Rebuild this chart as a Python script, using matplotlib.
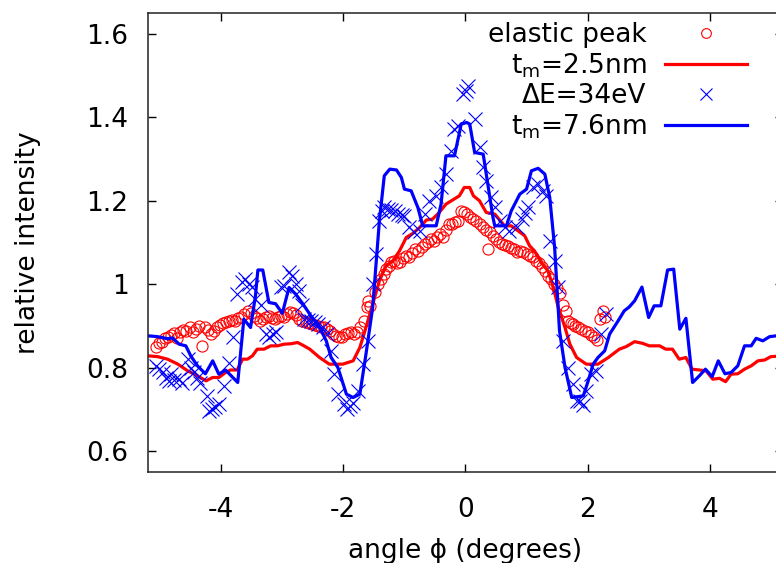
import matplotlib
matplotlib.use('Agg')
import matplotlib.pyplot as plt

plt.rcParams['font.family'] = ['DejaVu Sans']
plt.rcParams['mathtext.fontset'] = 'dejavusans'
plt.rcParams['axes.unicode_minus'] = False

# elastic peak (red circles)
elastic_x = [-5.07, -5.02, -4.97, -4.92, -4.87, -4.82, -4.77, -4.72, -4.67, -4.62,
             -4.57, -4.52, -4.47, -4.42, -4.37, -4.32, -4.27, -4.22, -4.17, -4.12,
             -4.07, -4.02, -3.97, -3.92, -3.87, -3.82, -3.77, -3.72, -3.67, -3.62,
             -3.57, -3.52, -3.47, -3.42, -3.37, -3.32, -3.27, -3.22, -3.17, -3.12,
             -3.07, -3.02, -2.97, -2.92, -2.87, -2.82, -2.77, -2.72, -2.67, -2.62,
             -2.57, -2.52, -2.47, -2.42, -2.37, -2.32, -2.27, -2.22, -2.17, -2.12,
             -2.07, -2.02, -1.97, -1.92, -1.87, -1.82, -1.77, -1.72, -1.67, -1.62,
             -1.60, -1.56, -1.48, -1.43, -1.38, -1.34, -1.30, -1.26, -1.22, -1.17,
             -1.12, -1.07, -1.02, -0.97, -0.92, -0.87, -0.82, -0.77, -0.72, -0.67,
             -0.62, -0.57, -0.52, -0.47, -0.42, -0.37, -0.32, -0.27, -0.22, -0.17,
             -0.12, -0.07, -0.02, 0.03, 0.08, 0.13, 0.18, 0.23, 0.28, 0.33,
             0.37, 0.40, 0.45, 0.50, 0.55, 0.60, 0.65, 0.70, 0.75, 0.80,
             0.85, 0.90, 0.95, 1.00, 1.05, 1.10, 1.15, 1.20, 1.25, 1.30,
             1.35, 1.40, 1.45, 1.50, 1.55, 1.60, 1.64, 1.68, 1.72, 1.76,
             1.80, 1.85, 1.90, 1.95, 2.00, 2.05, 2.10, 2.15, 2.20, 2.25, 2.28]
elastic_y = [0.850, 0.858, 0.862, 0.870, 0.874, 0.878, 0.882, 0.870, 0.884, 0.890,
             0.888, 0.896, 0.884, 0.892, 0.900, 0.852, 0.898, 0.890, 0.880, 0.888,
             0.896, 0.902, 0.906, 0.910, 0.912, 0.914, 0.912, 0.918, 0.922, 0.928,
             0.936, 0.930, 0.924, 0.918, 0.912, 0.916, 0.920, 0.924, 0.918, 0.916,
             0.920, 0.924, 0.922, 0.928, 0.932, 0.930, 0.926, 0.916, 0.912, 0.910,
             0.906, 0.904, 0.902, 0.900, 0.898, 0.896, 0.892, 0.888, 0.880, 0.876,
             0.872, 0.874, 0.880, 0.882, 0.884, 0.880, 0.886, 0.896, 0.912, 0.944,
             0.960, 0.948, 0.980, 1.000, 1.012, 1.024, 1.036, 1.044, 1.052, 1.056,
             1.050, 1.054, 1.062, 1.068, 1.064, 1.074, 1.084, 1.080, 1.088, 1.096,
             1.100, 1.108, 1.104, 1.112, 1.120, 1.112, 1.130, 1.144, 1.144, 1.148,
             1.152, 1.176, 1.172, 1.168, 1.160, 1.156, 1.152, 1.144, 1.136, 1.130,
             1.084, 1.124, 1.116, 1.108, 1.100, 1.096, 1.094, 1.092, 1.086, 1.084,
             1.076, 1.080, 1.078, 1.072, 1.068, 1.064, 1.056, 1.050, 1.040, 1.032,
             1.020, 1.012, 1.000, 0.990, 0.978, 0.950, 0.936, 0.912, 0.906, 0.904,
             0.900, 0.896, 0.892, 0.888, 0.884, 0.878, 0.872, 0.866, 0.916, 0.936, 0.920]

# Delta E = 34 eV (blue crosses)
loss_x = [-5.07, -5.02, -4.96, -4.91, -4.86, -4.82, -4.77, -4.69, -4.64, -4.55,
          -4.50, -4.44, -4.39, -4.34, -4.23, -4.20, -4.15, -4.10, -4.04, -3.96,
          -3.88, -3.80, -3.74, -3.66, -3.61, -3.55, -3.50, -3.44, -3.35, -3.27,
          -3.22, -3.15, -3.10, -3.02, -2.97, -2.89, -2.84, -2.78, -2.73, -2.68,
          -2.64, -2.58, -2.53, -2.47, -2.41, -2.34, -2.27, -2.21, -2.16, -2.08,
          -1.99, -1.94, -1.89, -1.84, -1.76, -1.68, -1.60, -1.52, -1.46, -1.41,
          -1.36, -1.33, -1.27, -1.22, -1.16, -1.10, -1.04, -1.00, -0.92, -0.84,
          -0.75, -0.67, -0.59, -0.48, -0.40, -0.32, -0.24, -0.18, -0.12, -0.04,
          0.01, 0.04, 0.15, 0.23, 0.29, 0.34, 0.41, 0.48, 0.56, 0.64,
          0.72, 0.84, 0.92, 0.97, 1.03, 1.11, 1.19, 1.27, 1.32, 1.38,
          1.46, 1.51, 1.59, 1.68, 1.76, 1.82, 1.88, 1.93, 1.98, 2.06,
          2.14, 2.22, 2.30]
loss_y = [0.804, 0.796, 0.790, 0.776, 0.768, 0.784, 0.770, 0.772, 0.764, 0.820,
          0.800, 0.790, 0.776, 0.764, 0.732, 0.696, 0.700, 0.706, 0.712, 0.756,
          0.812, 0.872, 0.976, 1.004, 1.012, 1.000, 0.992, 0.964, 0.950, 0.880,
          0.872, 0.880, 0.884, 0.992, 0.996, 1.028, 1.020, 1.000, 0.984, 0.950,
          0.916, 0.914, 0.912, 0.908, 0.904, 0.896, 0.880, 0.840, 0.784, 0.736,
          0.712, 0.700, 0.708, 0.716, 0.744, 0.808, 0.864, 1.000, 1.072, 1.152,
          1.176, 1.184, 1.180, 1.178, 1.176, 1.168, 1.166, 1.164, 1.136, 1.124,
          1.128, 1.168, 1.200, 1.212, 1.232, 1.264, 1.320, 1.372, 1.380, 1.456,
          1.464, 1.476, 1.396, 1.328, 1.280, 1.248, 1.210, 1.184, 1.152, 1.136,
          1.128, 1.136, 1.156, 1.170, 1.184, 1.232, 1.240, 1.224, 1.212, 1.104,
          1.056, 0.992, 0.864, 0.800, 0.760, 0.720, 0.720, 0.710, 0.744, 0.784,
          0.792, 0.880, 0.928]

# t_m = 2.5 nm (red line)
thin_x = [-5.20, -5.04, -4.88, -4.71, -4.55, -4.39, -4.25, -4.14, -4.04, -3.93,
          -3.85, -3.74, -3.65, -3.57, -3.49, -3.41, -3.30, -3.19, -3.08, -2.97,
          -2.86, -2.75, -2.67, -2.55, -2.39, -2.23, -2.01, -1.84, -1.73, -1.63,
          -1.52, -1.41, -1.30, -1.19, -1.08, -0.97, -0.86, -0.75, -0.64, -0.54,
          -0.43, -0.32, -0.21, -0.10, -0.02, 0.07, 0.13, 0.23, 0.34, 0.48,
          0.64, 0.75, 0.86, 0.97, 1.05, 1.13, 1.24, 1.35, 1.44, 1.52,
          1.63, 1.71, 1.82, 1.98, 2.17, 2.34, 2.52, 2.63, 2.77, 2.90,
          3.01, 3.18, 3.28, 3.39, 3.50, 3.61, 3.71, 3.83, 3.94, 4.05,
          4.16, 4.26, 4.35, 4.46, 4.57, 4.68, 4.79, 4.90, 5.00, 5.20]
thin_y = [0.828, 0.826, 0.820, 0.808, 0.792, 0.780, 0.768, 0.776, 0.776, 0.788,
          0.794, 0.794, 0.820, 0.820, 0.828, 0.844, 0.844, 0.852, 0.852, 0.856,
          0.857, 0.860, 0.854, 0.844, 0.824, 0.808, 0.808, 0.816, 0.848, 0.896,
          0.952, 1.008, 1.044, 1.056, 1.080, 1.112, 1.122, 1.136, 1.154, 1.156,
          1.172, 1.192, 1.202, 1.212, 1.232, 1.232, 1.212, 1.200, 1.172, 1.168,
          1.140, 1.140, 1.128, 1.116, 1.092, 1.080, 1.052, 1.032, 0.992, 0.944,
          0.896, 0.856, 0.824, 0.808, 0.808, 0.824, 0.844, 0.850, 0.862, 0.858,
          0.852, 0.852, 0.844, 0.844, 0.820, 0.824, 0.796, 0.794, 0.792, 0.772,
          0.774, 0.766, 0.784, 0.785, 0.796, 0.804, 0.816, 0.818, 0.826, 0.828]

# t_m = 7.6 nm (blue line)
thick_x = [-5.20, -5.04, -4.88, -4.80, -4.69, -4.58, -4.50, -4.39, -4.26, -4.14,
           -4.04, -3.93, -3.81, -3.73, -3.63, -3.52, -3.44, -3.40, -3.32, -3.22,
           -3.11, -3.00, -2.89, -2.78, -2.67, -2.55, -2.39, -2.28, -2.20, -2.09,
           -1.95, -1.84, -1.73, -1.63, -1.52, -1.41, -1.33, -1.24, -1.13, -1.05,
           -1.00, -0.89, -0.78, -0.70, -0.56, -0.48, -0.40, -0.32, -0.18, -0.07,
           0.02, 0.07, 0.15, 0.29, 0.45, 0.48, 0.67, 0.75, 0.89, 1.00,
           1.08, 1.19, 1.30, 1.38, 1.46, 1.54, 1.63, 1.74, 1.93, 2.01,
           2.09, 2.17, 2.28, 2.36, 2.50, 2.60, 2.68, 2.77, 2.89, 3.00,
           3.09, 3.20, 3.31, 3.41, 3.51, 3.61, 3.72, 3.83, 3.93, 4.04,
           4.14, 4.25, 4.35, 4.46, 4.57, 4.68, 4.76, 4.87, 4.98, 5.20]
thick_y = [0.876, 0.874, 0.869, 0.871, 0.856, 0.852, 0.828, 0.804, 0.785, 0.816,
           0.784, 0.794, 0.776, 0.764, 0.916, 0.896, 0.972, 1.034, 1.034, 0.956,
           0.953, 0.930, 0.992, 0.976, 0.954, 0.928, 0.896, 0.864, 0.824, 0.800,
           0.736, 0.728, 0.736, 0.832, 0.944, 1.152, 1.260, 1.276, 1.274, 1.256,
           1.228, 1.224, 1.184, 1.140, 1.140, 1.140, 1.192, 1.308, 1.308, 1.384,
           1.388, 1.384, 1.316, 1.312, 1.160, 1.140, 1.140, 1.176, 1.216, 1.228,
           1.272, 1.278, 1.264, 1.208, 1.088, 0.888, 0.800, 0.728, 0.732, 0.768,
           0.808, 0.824, 0.840, 0.880, 0.912, 0.936, 0.945, 0.960, 0.993, 0.920,
           0.948, 0.948, 1.034, 1.036, 0.892, 0.918, 0.764, 0.780, 0.796, 0.778,
           0.816, 0.785, 0.788, 0.804, 0.852, 0.852, 0.870, 0.864, 0.874, 0.878]

x_ticks = [-4, -2, 0, 2, 4]
y_ticks = [0.6, 0.8, 1.0, 1.2, 1.4, 1.6]
y_tick_labels = ['0.6', '0.8', '1', '1.2', '1.4', '1.6']

red = '#ff0000'
blue = '#0000ff'
fs = 19

fig = plt.figure(figsize=(7.76, 5.63), dpi=100)
# right edge of the frame falls just outside the picture, like the original
ax = fig.add_axes([0.1907, 0.1622, 0.8183, 0.8142])

ax.plot(elastic_x, elastic_y, linestyle='none', marker='o', markersize=8,
        markerfacecolor='none', markeredgecolor=red, markeredgewidth=0.8,
        label='elastic peak')
ax.plot(thin_x, thin_y, color=red, linewidth=2.3, label=r't$_\mathregular{m}$=2.5nm')
ax.plot(loss_x, loss_y, linestyle='none', marker='x', markersize=9.5,
        color=blue, markeredgewidth=0.8, label='\u0394E=34eV')
ax.plot(thick_x, thick_y, color=blue, linewidth=2.3, label=r't$_\mathregular{m}$=7.6nm')

ax.set_xlim(-5.2, 5.2)
ax.set_ylim(0.55, 1.65)
ax.set_xticks(x_ticks)
ax.set_yticks(y_ticks)
ax.set_yticklabels(y_tick_labels)
ax.tick_params(direction='in', length=5.5, width=1.0, top=True, right=True,
               labelsize=fs, colors='black')
ax.tick_params(axis='x', pad=18)
ax.tick_params(axis='y', pad=14)
for s in ax.spines.values():
    s.set_linewidth(1.1)
    s.set_color('#222222')

ax.set_xlabel('angle \u03d5 (degrees)', fontsize=fs, labelpad=11)
ax.set_ylabel('relative intensity', fontsize=fs, labelpad=33)

leg = ax.legend(loc='upper right', bbox_to_anchor=(0.943, 0.98), frameon=False,
                fontsize=fs, markerfirst=False, handlelength=3.1, handletextpad=0.7,
                labelspacing=0.12, borderpad=0, borderaxespad=0)
leg.legend_handles[0].set_markersize(7)
leg.legend_handles[2].set_markersize(9)
# right-align legend texts like gnuplot
leg._legend_handle_box.get_children()[0].align = 'right'

plt.savefig('out.png', dpi=100)
